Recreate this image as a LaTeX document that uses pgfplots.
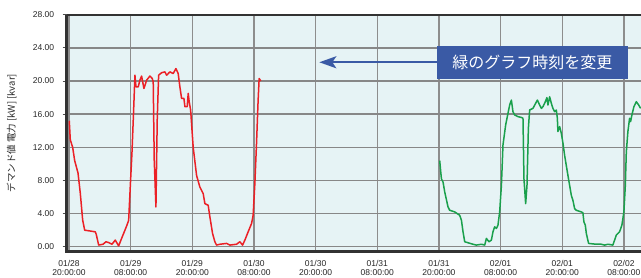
\documentclass[border=0pt]{standalone}
\usepackage{pgfplots}
\pgfplotsset{compat=1.18}
\usepackage{fontspec}
\setmainfont{Liberation Sans}
\newfontfamily\jp{Noto Sans CJK JP}
\usetikzlibrary{arrows.meta}
\definecolor{bgc}{RGB}{230,243,245}
\definecolor{boxblue}{RGB}{58,90,165}
\definecolor{lred}{RGB}{235,32,38}
\definecolor{lgreen}{RGB}{26,160,76}
\definecolor{gridc}{RGB}{135,135,135}
\definecolor{bord}{RGB}{50,50,50}

\pgfplotstableread{
x y
0.05 15.2
0.25 12.9
0.71 12.0
1.10 10.4
1.75 8.9
2.19 6.5
2.66 3.2
3.05 2.0
5.11 1.8
5.30 1.5
5.77 0.2
6.61 0.3
7.20 0.6
7.72 0.5
8.36 0.3
9.00 0.8
9.66 0.1
10.30 1.1
11.28 2.6
11.61 3.2
11.92 7.2
12.25 11.3
12.58 16.5
12.83 20.7
13.03 19.3
13.47 19.3
13.80 20.1
14.13 20.6
14.58 19.1
15.11 20.1
15.75 20.6
16.20 20.3
16.39 19.9
16.59 10.4
16.92 4.8
17.17 15.3
17.44 20.7
18.03 21.0
18.67 21.1
19.00 20.7
19.64 21.1
20.28 20.9
20.81 21.5
21.25 20.9
21.58 19.3
21.91 17.9
22.36 17.9
22.56 16.9
23.00 16.9
23.20 18.5
23.39 17.5
23.67 16.5
24.17 12.0
24.83 8.6
25.47 7.2
26.12 6.4
26.45 5.2
27.09 5.0
27.42 3.6
27.94 1.6
28.39 0.6
28.72 0.2
29.36 0.3
30.67 0.4
31.31 0.2
32.61 0.3
33.25 0.6
33.78 0.2
34.23 0.8
34.87 1.8
35.53 2.8
35.84 3.8
36.17 7.6
36.50 12.5
36.81 17.7
37.01 20.3
37.34 20.0
}\redtable

\pgfplotstableread{
x y
72.15 10.4
72.48 8.2
72.80 7.8
73.13 6.6
73.77 4.8
74.10 4.4
75.07 4.2
76.04 3.8
76.38 3.2
76.69 1.8
77.02 0.6
78.63 0.3
79.29 0.2
80.27 0.3
80.91 0.2
81.24 1.0
81.74 0.6
82.21 0.8
82.52 1.8
82.85 2.4
83.18 2.2
83.49 2.6
83.82 4.2
84.16 7.4
84.47 12.3
84.99 14.7
85.44 16.1
85.77 17.1
86.10 17.7
86.41 16.3
86.74 15.9
87.38 15.7
88.05 15.6
88.36 15.5
88.55 8.2
88.88 5.2
89.14 7.4
89.41 14.3
89.66 16.5
90.30 16.7
91.16 17.7
91.60 17.1
91.94 16.7
92.25 16.9
92.71 17.5
93.02 18.0
93.22 17.1
93.55 18.1
93.88 17.3
94.19 16.7
94.52 16.3
94.85 16.5
95.05 15.5
95.16 13.9
95.49 14.5
95.82 13.7
96.14 12.5
96.47 11.0
96.79 9.8
97.11 8.6
97.44 7.4
97.77 6.2
98.08 5.6
98.41 4.6
98.74 4.4
99.72 4.2
100.02 4.1
100.22 3.0
100.49 2.6
100.69 1.6
101.13 0.4
102.63 0.3
103.60 0.3
104.25 0.2
104.89 0.3
105.86 0.2
106.19 0.8
106.52 1.4
107.16 1.8
107.61 2.6
108.00 4.2
108.28 7.4
108.47 11.4
108.78 13.9
109.11 15.5
109.30 15.1
109.56 15.9
109.95 16.9
110.42 17.5
110.88 17.1
111.25 16.7
}\greentable

\begin{document}
\begin{tikzpicture}
\begin{axis}[
  at={(66.7pt,25.3pt)}, anchor=south west,
  scale only axis, width=574.3pt, height=237pt,
  xmin=-0.45, xmax=111.33, ymin=-0.6, ymax=28,
  clip mode=individual,
  axis line style={draw=none},
  axis background/.style={fill=bgc},
  xtick={0,12,...,108},
  xticklabels={{01/28\\20:00:00},{01/29\\08:00:00},{01/29\\20:00:00},{01/30\\08:00:00},{01/30\\20:00:00},{01/31\\08:00:00},{01/31\\20:00:00},{02/01\\08:00:00},{02/01\\20:00:00},{02/02\\08:00:00}},
  ytick={0,4,...,28},
  /pgf/number format/fixed, /pgf/number format/fixed zerofill, /pgf/number format/precision=2, /pgf/number format/assume math mode=true,
  yticklabel style={font=\fontsize{8.5}{9}\selectfont, text=black!85, xshift=-5pt},
  xticklabel style={font=\fontsize{8.5}{9}\selectfont, text=black!85, align=center, yshift=-1pt},
  tick pos=left, tick align=outside, major tick length=4pt,
  xtick style={draw=none},
  ytick style={draw=black!70, line width=0.8pt},
  xmajorgrids, ymajorgrids,
  x grid style={gridc!95, line width=1.4pt},
  y grid style={gridc, line width=1.5pt},
  ylabel={デマンド値 電力 [kW] [kvar]},
  ylabel style={font=\jp\fontsize{9.5}{10}\selectfont, at={(axis description cs:-0.0958,0.5)}, anchor=center, text=black!85},
]
\addplot[lred, line width=1.5pt, line join=round] table[x=x,y=y] {\redtable};
\addplot[lgreen, line width=1.5pt, line join=round] table[x=x,y=y] {\greentable};
\draw[bord, line width=2pt] (rel axis cs:0,1) -- (rel axis cs:1,1);
\draw[bord, line width=3.5pt] (rel axis cs:0,1) -- (rel axis cs:0,0) -- (rel axis cs:1,0);
\node[fill=boxblue, text=white, minimum width=191.6pt, minimum height=33.3pt, inner sep=0pt, font=\jp\fontsize{16}{16}\selectfont] at (axis cs:90.21,22.26) {緑のグラフ時刻を変更};
\draw[boxblue, line width=2pt, -{Stealth[length=17pt,width=12pt,inset=4pt]}] (axis cs:71.57,22.26) -- (axis cs:48.72,22.26);
\end{axis}
\pgfresetboundingbox
\path[use as bounding box] (0pt,0pt) rectangle (641pt,277pt);
\end{tikzpicture}
\end{document}
